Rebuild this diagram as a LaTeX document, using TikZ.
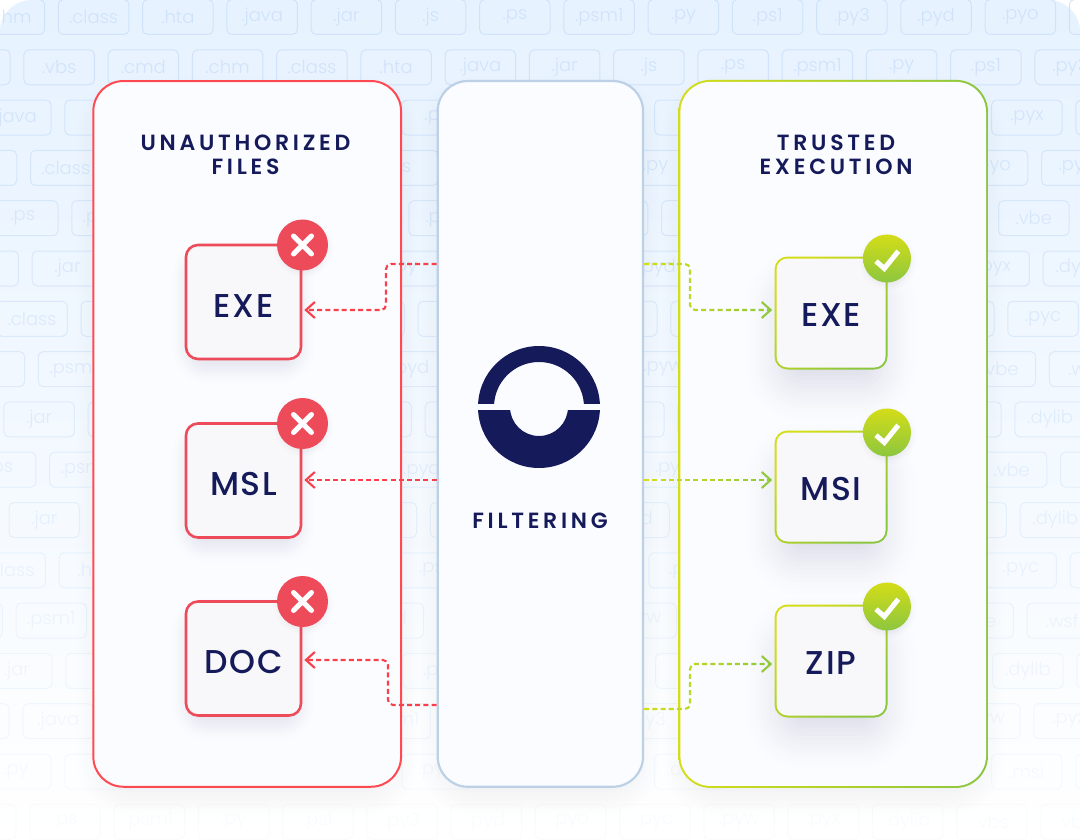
\documentclass[tikz,border=0pt]{standalone}
\usepackage{fontspec}
\usetikzlibrary{arrows.meta,calc}
\setmainfont{Poppins Light}
\newfontfamily\titlefont[LetterSpace=17]{Poppins SemiBold}
\newfontfamily\boxfont[LetterSpace=5]{Poppins Medium}
\definecolor{navy}{HTML}{151A5A}
\definecolor{cardfill}{HTML}{FBFCFF}
\definecolor{boxfill}{HTML}{F8F8FA}
\definecolor{redcard}{HTML}{FF4A52}
\definecolor{redbox}{HTML}{EE4B5A}
\definecolor{redline}{HTML}{F8404C}
\definecolor{midedge}{HTML}{BCD0E6}
\definecolor{gyellow}{HTML}{D4DD18}
\definecolor{ggreen}{HTML}{8CC63F}
\definecolor{tilecol}{HTML}{CBDFF9}
\definecolor{shadowcol}{HTML}{5A6390}
\tikzset{
  filetile/.style={draw=tilecol,line width=1pt,rounded corners=5pt,minimum width=70.5pt,minimum height=35pt,inner sep=0pt,text=tilecol,font=\fontsize{18}{20}\selectfont,anchor=north west},
  cardouter/.style={rounded corners=32pt,minimum width=#1,minimum height=708pt,inner sep=0pt},
  cardinner/.style={rounded corners=30pt,minimum width=#1,minimum height=704pt,inner sep=0pt,fill=cardfill},
  boxlabel/.style={font=\boxfont\fontsize{33}{36}\selectfont,text=navy},
  heading/.style={font=\titlefont\fontsize{22}{24}\selectfont,text=navy,align=center},
  redarrow/.style={draw=redline,line width=2.1pt,dash pattern=on 5pt off 3.2pt,rounded corners=5pt,-{Straight Barb[length=9pt,width=16pt,line width=2.1pt]},shorten >=2pt},
  greenarrow/.style={line width=2.1pt,dash pattern=on 5pt off 3.2pt,rounded corners=5pt,-{Straight Barb[length=9pt,width=16pt,line width=2.1pt]},shorten >=2pt}
}
% soft shadow: cx cy w h radius spread total-opacity
\newcommand{\softshade}[7]{%
  \foreach \i in {1,...,24}{%
    \pgfmathsetmacro{\ee}{#6*(1-2*(\i-1)/23)}%
    \pgfmathsetmacro{\rr}{max(#5+\ee,1)}%
    \pgfmathsetmacro{\oo}{#7*2*\i/600}%
    \fill[shadowcol,fill opacity=\oo,rounded corners=\rr pt]
      (#1-#3/2-\ee,#2-#4/2-\ee) rectangle (#1+#3/2+\ee,#2+#4/2+\ee);
  }%
}
% a row of file tiles: row number, first x, opacity, k/label list
\newcommand{\tilerow}[4]{%
  \foreach \k/\lab [count=\c] in {#4}{%
    \node[filetile,opacity=#3] (tile-#1-\c) at ({#2+84.25*\k},{-1+50.3*(#1-1)}) {\lab};
  }%
}
\newcommand{\redbadge}[3]{%
  \softshade{#1+1}{#2+3}{44}{44}{22}{10}{0.24}
  \node[circle,fill=redbox,minimum size=51pt,inner sep=0pt] (#3) at (#1,#2) {};
  \draw[white,line width=5pt,line cap=round] (#1-9,#2-9) -- (#1+9,#2+9) (#1+9,#2-9) -- (#1-9,#2+9);
}
\newcommand{\greenbadge}[3]{%
  \softshade{#1+1}{#2+3}{42}{42}{21}{10}{0.24}
  \node[circle,top color=gyellow,bottom color=ggreen,minimum size=48pt,inner sep=0pt] (#3) at (#1,#2) {};
  \draw[white,line width=5pt,line join=miter] (#1-11,#2+2.7) -- (#1-2.7,#2+10) -- (#1+11.3,#2-7.3);
}
\newcommand{\redfile}[4]{%
  \softshade{#1}{#2+10}{100}{100}{14}{24}{0.36}
  \node[draw=redbox,line width=2.6pt,fill=boxfill,rounded corners=12pt,minimum width=115pt,minimum height=114pt,inner sep=0pt] (#3) at (#1,#2) {};
  \node[boxlabel,inner sep=0pt] (#3t) at (#1,#2+3.6) {#4};
}
\newcommand{\greenfile}[4]{%
  \softshade{#1}{#2+22}{85}{85}{14}{48}{0.42}
  \node[top color=gyellow,bottom color=ggreen,shading angle=45,rounded corners=13pt,minimum width=113pt,minimum height=113pt,inner sep=0pt] (#3o) at (#1,#2) {};
  \node[fill=boxfill,rounded corners=11pt,minimum width=109pt,minimum height=109pt,inner sep=0pt] (#3) at (#1,#2) {};
  \node[boxlabel,inner sep=0pt] (#3t) at (#1,#2+2.4) {#4};
}
% gradient dashed connector: the path is redrawn through vertical strips
\newcommand{\gradconn}[1]{%
  \foreach \s in {0,...,13}{%
    \pgfmathsetmacro{\pct}{100-100*\s/13}%
    \colorlet{stripcol}{gyellow!\pct!ggreen}%
    \begin{scope}
      \clip ({643+10*\s},200) rectangle ({643+10*\s+10.3},760);
      \draw[greenarrow,draw=stripcol] #1;
    \end{scope}
  }%
}
\begin{document}
\begin{tikzpicture}[x=1pt,y=-1pt]
\useasboundingbox (0,0) rectangle (1080,840);
\fill[white] (0,0) rectangle (1080,840);
% backdrop
\shade[rounded corners=32pt,
  top color={rgb,255:red,230;green,242;blue,255},middle color={rgb,255:red,242;green,248;blue,254},bottom color=white]
  (0,0) rectangle (1080,840);
% tiles
\tilerow{1}{57.9}{0.8}{-1/.chm,0/.class,1/.hta,2/.java,3/.jar,4/.js,5/.ps,6/.psm1,7/.py,8/.ps1,9/.py3,10/.pyd,11/.pyo,12/{}}
\tilerow{2}{23.4}{0.8}{-1/{},0/.vbs,1/.cmd,2/.chm,3/.class,4/.hta,5/.java,6/.jar,7/.js,8/.ps,9/.psm1,10/.py,11/.ps1,12/.py3}
\tilerow{3}{-19.9}{0.75}{0/.java,1/{},5/.py,8/{},12/.pyx,13/{}}
\tilerow{4}{30}{0.7}{-1/{},0/.class,4/.js,7/.py,11/.pyo,12/.pyc}
\tilerow{5}{-13}{0.65}{0/.ps,1/.psm1,5/.pyd,7/{},8/.pyw,12/.vbe}
\tilerow{6}{31.7}{0.62}{-1/{},0/.jar,4/.py,7/.pyd,11/.pyx,12/.dylib}
\tilerow{7}{-3.7}{0.58}{0/.class,1/{},4/{},5/{},7/{},8/{},11/{},12/.pyc}
\tilerow{8}{37.9}{0.54}{-1/{},0/.psm1,4/.pyd,7/.pyw,11/.vbe,12/.wsf}
\tilerow{9}{3.4}{0.5}{0/.jar,1/{},4/{},5/{},7/{},8/{},11/{},12/.dylib}
\tilerow{10}{49.2}{0.45}{-1/.ps,0/.psm1,4/.pyd,7/.pyw,11/.vbe,12/{}}
\tilerow{11}{8.6}{0.4}{0/.jar,1/{},4/{},5/{},7/.pyd,8/{},11/{},12/.dylib}
\tilerow{12}{-25.7}{0.35}{0/.class,1/.hta,5/.ps,8/.ps1,12/.pyc,13/{}}
\tilerow{13}{15.5}{0.3}{-1/{},0/.psm1,4/.pyd,7/.pyw,11/.vbe,12/.wsf}
\tilerow{14}{-18.9}{0.26}{0/.jar,1/{},5/.ps1,8/{},12/.dylib,13/{}}
\tilerow{15}{22.4}{0.22}{-1/{},0/.java,4/.psm1,7/.py3,11/.pyw,12/.pyx}
\tilerow{16}{-20}{0.16}{0/.py,1/{},5/.pyc,8/.dylib,12/.msi,13/{}}
\tilerow{17}{29.3}{0.1}{-1/{},0/.ps,1/.psm1,2/.py,3/.ps1,4/.py3,5/.pyd,6/.pyo,7/.pyc,8/.pyw,9/.pyx,10/.dylib,11/.vbs,12/.vbe}
% card shadows
\softshade{247}{446}{290}{690}{30}{34}{0.15}
\softshade{540}{446}{190}{690}{30}{34}{0.15}
\softshade{833}{446}{290}{690}{30}{34}{0.15}
% cards
\node[cardinner=307.7pt,draw=redcard,line width=2pt,minimum height=705.7pt] (unauth) at (247.2,433.9) {};
\node[cardinner=205.3pt,draw=midedge,line width=2.2pt,minimum height=705.7pt] (filt) at (540.35,433.9) {};
\node[cardouter=309.6pt,left color=gyellow,right color=ggreen] (trustedo) at (833.2,433.9) {};
\node[cardinner=305.6pt] (trusted) at (833.2,433.9) {};
% headings
\node[heading] (h1) at (245.5,155) {UNAUTHORIZED\\FILES};
\node[heading] (h2) at (836,155) {TRUSTED\\EXECUTION};
\node[font=\titlefont\fontsize{22}{24}\selectfont,text=navy] (h3) at (540,520.5) {FILTERING};
% logo
\begin{scope}
  \clip (470,340) rectangle (610,403.4);
  \fill[navy,even odd rule] (539,407) circle[radius=61] (539,407) circle[radius=45];
\end{scope}
\begin{scope}
  \clip (470,410.3) rectangle (610,475);
  \fill[navy,even odd rule] (539,407) circle[radius=61] (539,407) circle[radius=29];
\end{scope}
% files
\redfile{243.5}{302}{l1}{EXE}
\redfile{243.5}{480.5}{l2}{MSL}
\redfile{243.5}{658.5}{l3}{DOC}
\greenfile{831}{313}{r1}{EXE}
\greenfile{831}{487}{r2}{MSI}
\greenfile{831}{661}{r3}{ZIP}
% connectors
\coordinate (ra) at (437,264);
\coordinate (rb) at (386,310);
\coordinate (rc) at (437,480);
\coordinate (rd) at (437,705);
\coordinate (re) at (388,660);
\draw[redarrow] (filt.west |- ra) -| (rb) -- (rb -| l1.east);
\draw[redarrow] (filt.west |- rc) -- (rc -| l2.east);
\draw[redarrow] (filt.west |- rd) -| (re) -- (re -| l3.east);
\coordinate (ga) at (643,264);
\coordinate (gb) at (690,310);
\coordinate (gc) at (643,480);
\coordinate (gd) at (643,709);
\coordinate (ge) at (690,664);
\gradconn{(filt.east |- ga) -| (gb) -- (gb -| r1o.west)}
\gradconn{(filt.east |- gc) -- (gc -| r2o.west)}
\gradconn{(filt.east |- gd) -| (ge) -- (ge -| r3o.west)}
% badges
\redbadge{302.5}{245}{bl1}
\redbadge{302.5}{423.5}{bl2}
\redbadge{302.5}{601.5}{bl3}
\greenbadge{887}{258.5}{br1}
\greenbadge{887}{432.5}{br2}
\greenbadge{887}{606.5}{br3}
\end{tikzpicture}
\end{document}
